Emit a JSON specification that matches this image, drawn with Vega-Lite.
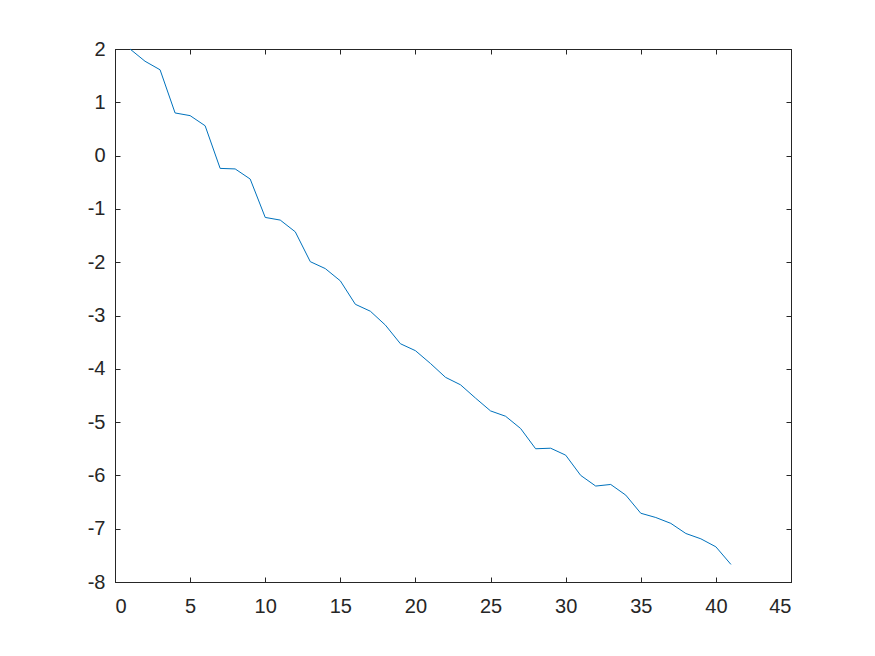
{
  "$schema": "https://vega.github.io/schema/vega-lite/v6.json",
  "width": 676,
  "height": 533,
  "autosize": "none",
  "padding": {"left": 115, "top": 49, "right": 84, "bottom": 74},
  "background": "white",
  "config": {
    "view": {"stroke": "#262626", "strokeWidth": 1},
    "axis": {
      "grid": false,
      "domainColor": "#262626",
      "tickColor": "#262626",
      "labelColor": "#262626",
      "labelFont": "Liberation Sans",
      "labelFontSize": 20,
      "tickSize": -5,
      "domainWidth": 1,
      "tickWidth": 1,
      "labelExpr": "replace(datum.label, '−', '-')"
    }
  },
  "data": {
    "values": [
      {"x": 1, "y": 2.0}, {"x": 2, "y": 1.77}, {"x": 3, "y": 1.61}, {"x": 4, "y": 0.8},
      {"x": 5, "y": 0.75}, {"x": 6, "y": 0.56}, {"x": 7, "y": -0.24}, {"x": 8, "y": -0.25},
      {"x": 9, "y": -0.44}, {"x": 10, "y": -1.16}, {"x": 11, "y": -1.21}, {"x": 12, "y": -1.43},
      {"x": 13, "y": -1.99}, {"x": 14, "y": -2.12}, {"x": 15, "y": -2.35}, {"x": 16, "y": -2.79},
      {"x": 17, "y": -2.92}, {"x": 18, "y": -3.18}, {"x": 19, "y": -3.53}, {"x": 20, "y": -3.66},
      {"x": 21, "y": -3.9}, {"x": 22, "y": -4.16}, {"x": 23, "y": -4.3}, {"x": 24, "y": -4.55},
      {"x": 25, "y": -4.79}, {"x": 26, "y": -4.89}, {"x": 27, "y": -5.12}, {"x": 28, "y": -5.5},
      {"x": 29, "y": -5.49}, {"x": 30, "y": -5.62}, {"x": 31, "y": -6.0}, {"x": 32, "y": -6.2},
      {"x": 33, "y": -6.17}, {"x": 34, "y": -6.37}, {"x": 35, "y": -6.71}, {"x": 36, "y": -6.79},
      {"x": 37, "y": -6.9}, {"x": 38, "y": -7.09}, {"x": 39, "y": -7.19}, {"x": 40, "y": -7.34},
      {"x": 41, "y": -7.67}
    ]
  },
  "layer": [
    {
      "mark": {"type": "line", "color": "#0072BD", "strokeWidth": 1},
      "encoding": {
        "x": {"field": "x", "type": "quantitative", "scale": {"domain": [0, 45], "nice": false, "zero": false},
              "axis": {"title": null, "values": [0,5,10,15,20,25,30,35,40,45], "labelPadding": 19, "orient": "bottom"}},
        "y": {"field": "y", "type": "quantitative", "scale": {"domain": [-8, 2], "nice": false, "zero": false},
              "axis": {"title": null, "values": [-8,-7,-6,-5,-4,-3,-2,-1,0,1,2], "labelPadding": 15, "orient": "left"}}
      }
    },
    {
      "mark": {"type": "line", "opacity": 0},
      "encoding": {
        "x": {"field": "x", "type": "quantitative", "scale": {"domain": [0, 45], "nice": false, "zero": false},
              "axis": {"title": null, "values": [0,5,10,15,20,25,30,35,40,45], "labels": false, "orient": "top"}},
        "y": {"field": "y", "type": "quantitative", "scale": {"domain": [-8, 2], "nice": false, "zero": false},
              "axis": {"title": null, "values": [-8,-7,-6,-5,-4,-3,-2,-1,0,1,2], "labels": false, "orient": "right"}}
      }
    }
  ],
  "resolve": {"axis": {"x": "independent", "y": "independent"}}
}
